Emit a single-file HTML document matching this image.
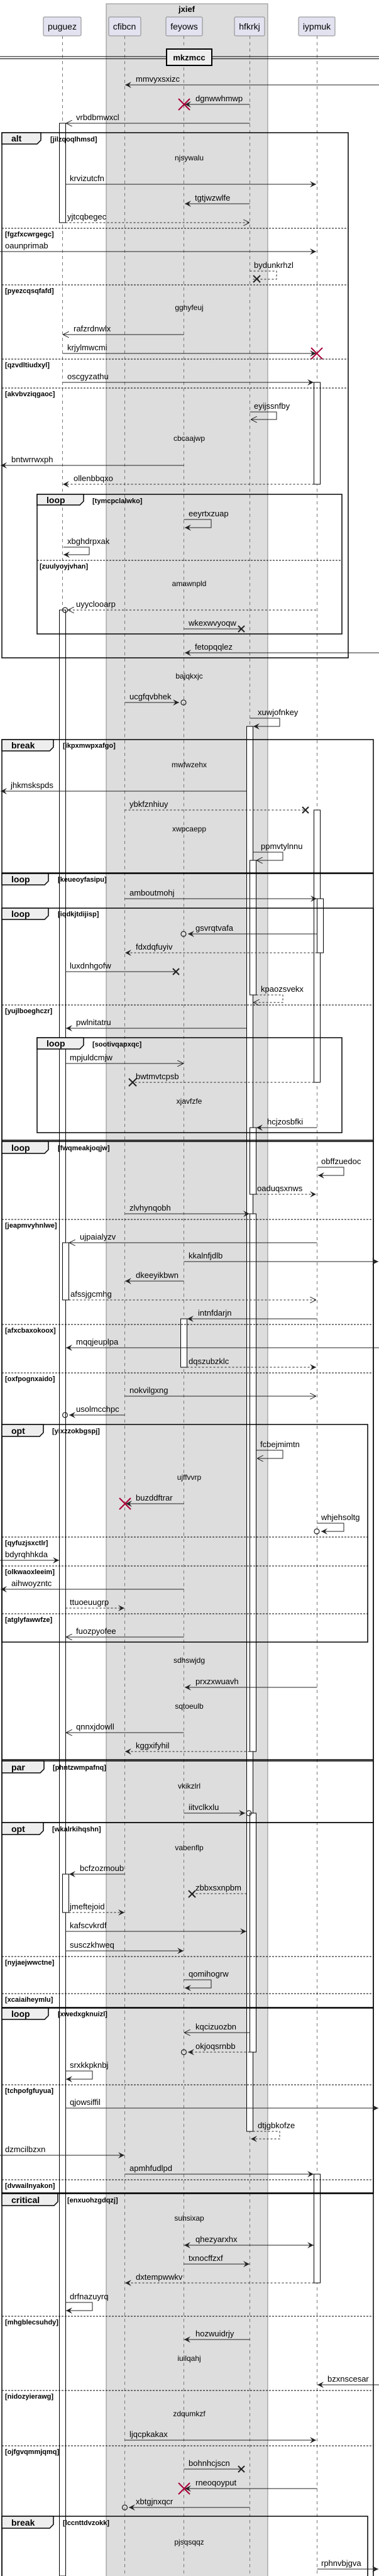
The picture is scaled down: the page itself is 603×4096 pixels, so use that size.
<!DOCTYPE html>
<html><head><meta charset="utf-8"><style>
body{margin:0;background:#fff}
svg{display:block}
text{font-family:"Liberation Sans",sans-serif}
.t{font-size:13px;fill:#000}
.dl{font-size:12px;fill:#000;text-anchor:middle}
.g{font-size:11px;font-weight:bold;fill:#000}
.ft{font-size:14px;font-weight:bold;fill:#000}
.m{stroke:#222;stroke-width:1;fill:none}
.d{stroke:#222;stroke-width:1;fill:none;stroke-dasharray:3,3}
.ll{stroke:#777;stroke-width:1;stroke-dasharray:5,5}
.fr{fill:none;stroke:#000;stroke-width:1.5}
.el{stroke:#000;stroke-width:1;stroke-dasharray:3,2}
.hd{fill:#eee;stroke:#000;stroke-width:1.5}
.ac{fill:#fff;stroke:#000;stroke-width:1}
.rx{stroke:#a80036;stroke-width:2}
.bx{stroke:#222;stroke-width:2}
.ci{fill:none;stroke:#222;stroke-width:1.2}
</style></head><body>
<svg width="603" height="4096" viewBox="0 0 603 4096" xmlns="http://www.w3.org/2000/svg">
<defs>
<marker id="f" viewBox="0 0 10 10" refX="10" refY="5" markerWidth="10" markerHeight="10" markerUnits="userSpaceOnUse" orient="auto-start-reverse"><path d="M0,0 L10,5 L0,10 L4,5z" fill="#222"/></marker>
<marker id="o" viewBox="0 0 10 10" refX="10" refY="5" markerWidth="10" markerHeight="10" markerUnits="userSpaceOnUse" orient="auto"><path d="M0,0 L10,5 L0,10" fill="none" stroke="#222"/></marker>
</defs>
<rect x="169" y="6" width="257" height="4095" fill="#dddddd" stroke="#888"/>
<text x="297" y="19" text-anchor="middle" style="font-size:13px;font-weight:bold">jxief</text>
<g style="font-size:14px" text-anchor="middle">
<rect x="69" y="27" width="60" height="30" rx="2" fill="#e2e2f0" stroke="#888"/><text x="99" y="47">puguez</text>
<rect x="173" y="27" width="51" height="30" rx="2" fill="#e2e2f0" stroke="#888"/><text x="198" y="47">cfibcn</text>
<rect x="264" y="27" width="58" height="30" rx="2" fill="#e2e2f0" stroke="#888"/><text x="293" y="47">feyows</text>
<rect x="373" y="27" width="48" height="30" rx="2" fill="#e2e2f0" stroke="#888"/><text x="397" y="47">hfkrkj</text>
<rect x="475" y="27" width="58" height="30" rx="2" fill="#e2e2f0" stroke="#888"/><text x="504" y="47">iypmuk</text>
</g>
<line class="ll" x1="99.5" y1="57" x2="99.5" y2="4096"/>
<line class="ll" x1="198.5" y1="57" x2="198.5" y2="4096"/>
<line class="ll" x1="292.5" y1="57" x2="292.5" y2="4096"/>
<line class="ll" x1="397.5" y1="57" x2="397.5" y2="4096"/>
<line class="ll" x1="504.5" y1="57" x2="504.5" y2="4096"/>

<line x1="0" y1="90" x2="603" y2="90" stroke="#000" stroke-width="1"/>
<line x1="0" y1="93.5" x2="603" y2="93.5" stroke="#000" stroke-width="1"/>
<rect x="265" y="78" width="72" height="26" fill="#eee" stroke="#000" stroke-width="2"/>
<text x="301" y="96" text-anchor="middle" style="font-size:13px;font-weight:bold">mkzmcc</text>

<!-- activations -->
<rect class="ac" x="94.5" y="196" width="10" height="158"/>
<rect class="ac" x="499.5" y="608" width="10" height="162"/>
<rect class="ac" x="94.5" y="970" width="10" height="3126"/>
<rect class="ac" x="392.5" y="1155" width="10" height="2234"/>
<rect class="ac" x="397.5" y="1368" width="10" height="214"/>
<rect class="ac" x="499.5" y="1288" width="10" height="433"/>
<rect class="ac" x="504.5" y="1429" width="10" height="86"/>
<rect class="ac" x="397.5" y="1793" width="10" height="106"/>
<rect class="ac" x="397.5" y="1930" width="10" height="855"/>
<rect class="ac" x="99.5" y="1976" width="10" height="91"/>
<rect class="ac" x="287.5" y="2097" width="10" height="77"/>
<rect class="ac" x="397.5" y="2883" width="10" height="380"/>
<rect class="ac" x="99.5" y="2980" width="10" height="61"/>
<rect class="ac" x="499.5" y="3457" width="10" height="173"/>

<!-- frames -->
<rect class="fr" x="3" y="211" width="551" height="835"/>
<path class="hd" d="M3,211 H65 V223 L59,229 H3 Z"/><text class="ft" x="18" y="225">alt</text><text class="g" x="80" y="225">[jilzqoqlhmsd]</text>
<line class="el" x1="3" y1="363" x2="554" y2="363"/><text class="g" x="8" y="376">[fgzfxcwrgegc]</text>
<line class="el" x1="3" y1="453" x2="554" y2="453"/><text class="g" x="8" y="466">[pyezcqsqfafd]</text>
<line class="el" x1="3" y1="571" x2="554" y2="571"/><text class="g" x="8" y="584">[qzvdltiudxyl]</text>
<line class="el" x1="3" y1="617" x2="554" y2="617"/><text class="g" x="8" y="630">[akvbvziqgaoc]</text>

<rect class="fr" x="59" y="786" width="485" height="222"/>
<path class="hd" d="M59,786 H133 V797 L127,803 H59 Z"/><text class="ft" x="74" y="800">loop</text><text class="g" x="147" y="800">[tymcpclalwko]</text>
<line class="el" x1="59" y1="891" x2="544" y2="891"/><text class="g" x="63" y="904">[zuulyoyjvhan]</text>

<rect class="fr" x="3" y="1176" width="591" height="212"/>
<path class="hd" d="M3,1176 H85 V1188 L79,1194 H3 Z"/><text class="ft" x="18" y="1190">break</text><text class="g" x="100" y="1189">[ikpxmwpxafgo]</text>

<rect class="fr" x="3" y="1389" width="591" height="2098"/>
<path class="hd" d="M3,1389 H77 V1401 L71,1407 H3 Z"/><text class="ft" x="18" y="1403">loop</text><text class="g" x="92" y="1402">[keueoyfasipu]</text>

<rect class="fr" x="3" y="1444" width="591" height="369"/>
<path class="hd" d="M3,1444 H77 V1456 L71,1462 H3 Z"/><text class="ft" x="18" y="1458">loop</text><text class="g" x="92" y="1457">[iqdkjtdijisp]</text>
<line class="el" x1="3" y1="1598" x2="594" y2="1598"/><text class="g" x="8" y="1611">[yujlboeghczr]</text>

<rect class="fr" x="59" y="1650" width="485" height="151"/>
<path class="hd" d="M59,1650 H133 V1662 L127,1668 H59 Z"/><text class="ft" x="74" y="1664">loop</text><text class="g" x="147" y="1664">[sootivqapxqc]</text>

<rect class="fr" x="3" y="1815" width="591" height="983"/>
<path class="hd" d="M3,1815 H77 V1828 L71,1834 H3 Z"/><text class="ft" x="18" y="1830">loop</text><text class="g" x="92" y="1829">[fwqmeakjoqjw]</text>
<line class="el" x1="3" y1="1939" x2="594" y2="1939"/><text class="g" x="8" y="1952">[jeapmvyhnlwe]</text>
<line class="el" x1="3" y1="2106" x2="594" y2="2106"/><text class="g" x="8" y="2119">[afxcbaxokoox]</text>
<line class="el" x1="3" y1="2183" x2="594" y2="2183"/><text class="g" x="8" y="2196">[oxfpognxaido]</text>

<rect class="fr" x="3" y="2265" width="582" height="346"/>
<path class="hd" d="M3,2265 H69 V2278 L63,2284 H3 Z"/><text class="ft" x="18" y="2280">opt</text><text class="g" x="83" y="2279">[yixzzokbgspj]</text>
<line class="el" x1="3" y1="2444" x2="585" y2="2444"/><text class="g" x="8" y="2457">[qyfuzjsxctlr]</text>
<line class="el" x1="3" y1="2490" x2="585" y2="2490"/><text class="g" x="8" y="2503">[olkwaoxleeim]</text>
<line class="el" x1="3" y1="2566" x2="585" y2="2566"/><text class="g" x="8" y="2579">[atglyfawwfze]</text>

<rect class="fr" x="3" y="2800" width="591" height="98"/>
<path class="hd" d="M3,2800 H70 V2813 L64,2819 H3 Z"/><text class="ft" x="18" y="2815">par</text><text class="g" x="84" y="2814">[phntzwmpafnq]</text>

<rect class="fr" x="3" y="2898" width="591" height="294"/>
<path class="hd" d="M3,2898 H69 V2911 L63,2917 H3 Z"/><text class="ft" x="18" y="2913">opt</text><text class="g" x="83" y="2912">[wkalrkihqshn]</text>
<line class="el" x1="3" y1="3111" x2="594" y2="3111"/><text class="g" x="8" y="3124">[nyjaejwwctne]</text>
<line class="el" x1="3" y1="3170" x2="594" y2="3170"/><text class="g" x="8" y="3183">[xcaiaiheymlu]</text>

<rect class="fr" x="3" y="3193" width="591" height="294"/>
<path class="hd" d="M3,3193 H77 V3205 L71,3211 H3 Z"/><text class="ft" x="18" y="3207">loop</text><text class="g" x="92" y="3206">[xwedxgknuizl]</text>
<line class="el" x1="3" y1="3315" x2="594" y2="3315"/><text class="g" x="8" y="3328">[tchpofgfuyua]</text>
<line class="el" x1="3" y1="3466" x2="594" y2="3466"/><text class="g" x="8" y="3479">[dvwailnyakon]</text>

<rect class="fr" x="3" y="3488" width="591" height="620"/>
<path class="hd" d="M3,3488 H92 V3501 L86,3507 H3 Z"/><text class="ft" x="18" y="3503">critical</text><text class="g" x="107" y="3502">[enxuohzgdqzj]</text>
<line class="el" x1="3" y1="3683" x2="594" y2="3683"/><text class="g" x="8" y="3696">[mhgblecsuhdy]</text>
<line class="el" x1="3" y1="3801" x2="594" y2="3801"/><text class="g" x="8" y="3814">[nidozyierawg]</text>
<line class="el" x1="3" y1="3889" x2="594" y2="3889"/><text class="g" x="8" y="3902">[ojfgvqmmjqmq]</text>

<rect class="fr" x="3" y="4001" width="582" height="110"/>
<path class="hd" d="M3,4001 H85 V4014 L79,4020 H3 Z"/><text class="ft" x="18" y="4016">break</text><text class="g" x="100" y="4015">[lccnttdvzokk]</text>

<g class="dl">
<text x="301" y="255">njsywalu</text>
<text x="301" y="493">gghyfeuj</text>
<text x="301" y="701">cbcaajwp</text>
<text x="301" y="932">amawnpld</text>
<text x="301" y="1079">bajqkxjc</text>
<text x="301" y="1220">mwfwzehx</text>
<text x="301" y="1322">xwpcaepp</text>
<text x="301" y="1755">xjavfzfe</text>
<text x="301" y="2353">ujffvvrp</text>
<text x="301" y="2644">sdhswjdg</text>
<text x="301" y="2717">sqtoeulb</text>
<text x="301" y="2844">vkikzlrl</text>
<text x="301" y="2942">vabenflp</text>
<text x="301" y="3531">suhsixap</text>
<text x="301" y="3754">iuilqahj</text>
<text x="301" y="3842">zdqumkzf</text>
<text x="301" y="4046">pjsqsqqz</text>
</g>

<g class="t">
<line class="m" x1="603" y1="135" x2="199" y2="135" marker-end="url(#f)"/><text x="216" y="130">mmvyxsxizc</text>
<line class="m" x1="397.5" y1="166" x2="294" y2="166" marker-end="url(#f)"/><text x="311" y="161">dgnwwhmwp</text>
<line class="rx" x1="284" y1="157" x2="302" y2="175"/><line class="rx" x1="302" y1="157" x2="284" y2="175"/>
<line class="m" x1="397.5" y1="196" x2="105" y2="196" marker-end="url(#o)"/><text x="121" y="191">vrbdbmwxcl</text>
<line class="m" x1="104.5" y1="293" x2="503" y2="293" marker-end="url(#f)"/><text x="111" y="288">krvizutcfn</text>
<line class="m" x1="397.5" y1="324" x2="294" y2="324" marker-end="url(#f)"/><text x="310" y="319">tgtjwzwlfe</text>
<line class="d" x1="104.5" y1="354" x2="397" y2="354" marker-end="url(#o)"/><text x="107" y="349">yjtcqbegec</text>
<line class="m" x1="0" y1="400" x2="503" y2="400" marker-end="url(#f)"/><text x="8" y="395">oaunprimab</text>
<path class="d" d="M397.5,431 H440 V444 H400"/><text x="404" y="426">bydunkrhzl</text>
<line class="bx" x1="403" y1="438" x2="414" y2="449"/><line class="bx" x1="414" y1="438" x2="403" y2="449"/>
<line class="m" x1="292.5" y1="532" x2="100" y2="532" marker-end="url(#o)"/><text x="117" y="527">rafzrdnwlx</text>
<line class="m" x1="99.5" y1="562" x2="503" y2="562" marker-end="url(#f)"/><text x="107" y="557">krjylmwcmi</text>
<line class="rx" x1="495" y1="553" x2="513" y2="571"/><line class="rx" x1="513" y1="553" x2="495" y2="571"/>
<line class="m" x1="99.5" y1="608" x2="499" y2="608" marker-end="url(#f)"/><text x="107" y="603">oscgyzathu</text>
<path class="m" d="M397.5,655 H440 V667 H399" marker-end="url(#o)"/><text x="404" y="650">eyijssnfby</text>
<line class="m" x1="292.5" y1="740" x2="1" y2="740" marker-end="url(#f)"/><text x="18" y="735">bntwrrwxph</text>
<line class="d" x1="499.5" y1="770" x2="100" y2="770" marker-end="url(#f)"/><text x="117" y="765">ollenbbqxo</text>
<path class="m" d="M292.5,826 H336 V839 H294" marker-end="url(#f)"/><text x="300" y="821">eeyrtxzuap</text>
<path class="m" d="M101,870 H142 V882 H101" marker-end="url(#f)"/><text x="107" y="865">xbghdrpxak</text>
<line class="d" x1="503" y1="970" x2="108" y2="970" marker-end="url(#o)"/><circle class="ci" cx="103.5" cy="970" r="4"/><text x="121" y="965">uyyclooarp</text>
<line class="m" x1="292.5" y1="1000" x2="384" y2="1000"/><text x="300" y="995">wkexwvyoqw</text>
<line class="bx" x1="379" y1="995" x2="389" y2="1005"/><line class="bx" x1="389" y1="995" x2="379" y2="1005"/>
<line class="m" x1="603" y1="1038" x2="294" y2="1038" marker-end="url(#f)"/><text x="310" y="1033">fetopqqlez</text>
<line class="m" x1="198.5" y1="1117" x2="285" y2="1117" marker-end="url(#f)"/><circle class="ci" cx="292" cy="1117" r="4"/><text x="206" y="1112">ucgfqvbhek</text>
<path class="m" d="M397.5,1142 H445 V1155 H403" marker-end="url(#f)"/><text x="410" y="1137">xuwjofnkey</text>
<line class="m" x1="392.5" y1="1258" x2="1" y2="1258" marker-end="url(#f)"/><text x="17" y="1253">jhkmskspds</text>
<line class="d" x1="198.5" y1="1288" x2="486" y2="1288"/><text x="206" y="1283">ybkfznhiuy</text>
<line class="bx" x1="481" y1="1283" x2="491" y2="1293"/><line class="bx" x1="491" y1="1283" x2="481" y2="1293"/>
<path class="m" d="M402.5,1355 H450 V1368 H408" marker-end="url(#o)"/><text x="415" y="1350">ppmvtylnnu</text>
<line class="m" x1="198.5" y1="1429" x2="504" y2="1429" marker-end="url(#f)"/><text x="206" y="1424">amboutmohj</text>
<line class="m" x1="504.5" y1="1485" x2="299" y2="1485" marker-end="url(#f)"/><circle class="ci" cx="292" cy="1485" r="4"/><text x="311" y="1480">gsvrqtvafa</text>
<line class="d" x1="504.5" y1="1515" x2="199" y2="1515" marker-end="url(#f)"/><text x="216" y="1510">fdxdqfuyiv</text>
<line class="m" x1="104.5" y1="1545" x2="280" y2="1545"/><text x="111" y="1540">luxdnhgofw</text>
<line class="bx" x1="275" y1="1540" x2="285" y2="1550"/><line class="bx" x1="285" y1="1540" x2="275" y2="1550"/>
<path class="d" d="M407.5,1582 H450 V1594 H403" marker-end="url(#o)"/><text x="415" y="1577">kpaozsvekx</text>
<line class="m" x1="392.5" y1="1635" x2="105" y2="1635" marker-end="url(#f)"/><text x="121" y="1630">pwlnitatru</text>
<line class="m" x1="104.5" y1="1691" x2="292" y2="1691" marker-end="url(#o)"/><text x="111" y="1686">mpjuldcmjw</text>
<line class="d" x1="499.5" y1="1721" x2="211" y2="1721"/><text x="216" y="1716">bwtmvtcpsb</text>
<line class="bx" x1="205" y1="1715" x2="217" y2="1727"/><line class="bx" x1="217" y1="1715" x2="205" y2="1727"/>
<line class="m" x1="504.5" y1="1793" x2="408" y2="1793" marker-end="url(#f)"/><text x="425" y="1788">hcjzosbfki</text>
<path class="m" d="M504.5,1856 H547 V1869 H506" marker-end="url(#f)"/><text x="511" y="1851">obffzuedoc</text>
<line class="d" x1="407.5" y1="1899" x2="503" y2="1899" marker-end="url(#f)"/><text x="409" y="1894">oaduqsxnws</text>
<line class="m" x1="198.5" y1="1930" x2="397" y2="1930" marker-end="url(#f)"/><text x="206" y="1925">zlvhynqobh</text>
<line class="m" x1="504.5" y1="1976" x2="110" y2="1976" marker-end="url(#o)"/><text x="127" y="1971">ujpaialyzv</text>
<line class="m" x1="292.5" y1="2006" x2="602" y2="2006" marker-end="url(#f)"/><text x="300" y="2001">kkalnfjdlb</text>
<line class="m" x1="292.5" y1="2037" x2="199" y2="2037" marker-end="url(#f)"/><text x="216" y="2032">dkeeyikbwn</text>
<line class="d" x1="109.5" y1="2067" x2="503" y2="2067" marker-end="url(#o)"/><text x="112" y="2062">afssjgcmhg</text>
<line class="m" x1="504.5" y1="2097" x2="298" y2="2097" marker-end="url(#f)"/><text x="315" y="2092">intnfdarjn</text>
<line class="m" x1="603" y1="2143" x2="105" y2="2143" marker-end="url(#f)"/><text x="121" y="2138">mqqjeuplpa</text>
<line class="d" x1="297.5" y1="2174" x2="503" y2="2174" marker-end="url(#f)"/><text x="300" y="2169">dqszubzklc</text>
<line class="m" x1="198.5" y1="2220" x2="503" y2="2220" marker-end="url(#o)"/><text x="206" y="2215">nokvilgxng</text>
<line class="m" x1="198.5" y1="2250" x2="110" y2="2250" marker-end="url(#f)"/><circle class="ci" cx="103.5" cy="2250" r="4"/><text x="121" y="2245">usolmcchpc</text>
<path class="m" d="M407.5,2306 H450 V2319 H409" marker-end="url(#o)"/><text x="414" y="2301">fcbejmimtn</text>
<line class="m" x1="292.5" y1="2391" x2="200" y2="2391" marker-end="url(#f)"/><text x="216" y="2386">buzddftrar</text>
<line class="rx" x1="190" y1="2382" x2="208" y2="2400"/><line class="rx" x1="208" y1="2382" x2="190" y2="2400"/>
<path class="m" d="M504.5,2422 H547 V2435 H511" marker-end="url(#f)"/><circle class="ci" cx="504" cy="2435" r="4"/><text x="511" y="2417">whjehsoltg</text>
<line class="m" x1="0" y1="2481" x2="94" y2="2481" marker-end="url(#f)"/><text x="8" y="2476">bdyrqhhkda</text>
<line class="m" x1="292.5" y1="2527" x2="1" y2="2527" marker-end="url(#f)"/><text x="18" y="2522">aihwoyzntc</text>
<line class="d" x1="104.5" y1="2557" x2="198" y2="2557" marker-end="url(#f)"/><text x="111" y="2552">ttuoeuugrp</text>
<line class="m" x1="292.5" y1="2603" x2="105" y2="2603" marker-end="url(#o)"/><text x="121" y="2598">fuozpyofee</text>
<line class="m" x1="504.5" y1="2683" x2="294" y2="2683" marker-end="url(#f)"/><text x="311" y="2678">prxzxwuavh</text>
<line class="m" x1="292.5" y1="2755" x2="105" y2="2755" marker-end="url(#o)"/><text x="121" y="2750">qnnxjdowll</text>
<line class="d" x1="397.5" y1="2785" x2="199" y2="2785" marker-end="url(#f)"/><text x="216" y="2780">kggxifyhil</text>
<line class="m" x1="292.5" y1="2883" x2="390" y2="2883" marker-end="url(#f)"/><circle class="ci" cx="396" cy="2883" r="4"/><text x="300" y="2878">iitvclkxlu</text>
<line class="m" x1="198.5" y1="2980" x2="110" y2="2980" marker-end="url(#f)"/><text x="127" y="2975">bcfzozmoub</text>
<line class="d" x1="392.5" y1="3011" x2="305" y2="3011"/><text x="311" y="3006">zbbxsxnpbm</text>
<line class="bx" x1="300" y1="3006" x2="311" y2="3017"/><line class="bx" x1="311" y1="3006" x2="300" y2="3017"/>
<line class="d" x1="109.5" y1="3041" x2="198" y2="3041" marker-end="url(#f)"/><text x="111" y="3036">jmeftejoid</text>
<line class="m" x1="104.5" y1="3071" x2="392" y2="3071" marker-end="url(#f)"/><text x="111" y="3066">kafscvkrdf</text>
<line class="m" x1="104.5" y1="3102" x2="292" y2="3102" marker-end="url(#f)"/><text x="111" y="3097">susczkhweq</text>
<path class="m" d="M292.5,3148 H336 V3161 H294" marker-end="url(#f)"/><text x="300" y="3143">qomihogrw</text>
<line class="m" x1="397.5" y1="3232" x2="293" y2="3232" marker-end="url(#o)"/><text x="311" y="3227">kqcizuozbn</text>
<line class="d" x1="397.5" y1="3263" x2="299" y2="3263" marker-end="url(#f)"/><circle class="ci" cx="292.5" cy="3263" r="4"/><text x="311" y="3258">okjoqsrnbb</text>
<path class="m" d="M104.5,3293 H147 V3306 H105" marker-end="url(#f)"/><text x="111" y="3288">srxkkpknbj</text>
<line class="m" x1="104.5" y1="3352" x2="602" y2="3352" marker-end="url(#f)"/><text x="111" y="3347">qjowsiffil</text>
<path class="d" d="M402.5,3389 H445 V3401 H399" marker-end="url(#f)"/><text x="410" y="3384">dtjgbkofze</text>
<line class="m" x1="0" y1="3427" x2="198" y2="3427" marker-end="url(#f)"/><text x="8" y="3422">dzmcilbzxn</text>
<line class="m" x1="198.5" y1="3457" x2="499" y2="3457" marker-end="url(#f)"/><text x="206" y="3452">apmhfudlpd</text>
<line class="m" x1="293" y1="3570" x2="499" y2="3570" marker-start="url(#f)" marker-end="url(#f)"/><text x="311" y="3565">qhezyarxhx</text>
<line class="m" x1="292.5" y1="3600" x2="397" y2="3600" marker-end="url(#f)"/><text x="300" y="3595">txnocffzxf</text>
<line class="d" x1="499.5" y1="3630" x2="199" y2="3630" marker-end="url(#f)"/><text x="216" y="3625">dxtempwwkv</text>
<path class="m" d="M104.5,3661 H147 V3674 H105" marker-end="url(#f)"/><text x="111" y="3656">drfnazuyrq</text>
<line class="m" x1="397.5" y1="3720" x2="293" y2="3720" marker-end="url(#f)"/><text x="311" y="3715">hozwuidrjy</text>
<line class="m" x1="603" y1="3792" x2="505" y2="3792" marker-end="url(#f)"/><text x="521" y="3787">bzxnscesar</text>
<line class="m" x1="198.5" y1="3880" x2="503" y2="3880" marker-end="url(#f)"/><text x="206" y="3875">ljqcpkakax</text>
<line class="m" x1="292.5" y1="3926" x2="384" y2="3926"/><text x="300" y="3921">bohnhcjscn</text>
<line class="bx" x1="379" y1="3921" x2="389" y2="3931"/><line class="bx" x1="389" y1="3921" x2="379" y2="3931"/>
<line class="m" x1="504.5" y1="3957" x2="294" y2="3957" marker-end="url(#f)"/><text x="311" y="3952">rneoqoyput</text>
<line class="rx" x1="284" y1="3948" x2="302" y2="3966"/><line class="rx" x1="302" y1="3948" x2="284" y2="3966"/>
<line class="m" x1="397.5" y1="3987" x2="205" y2="3987" marker-end="url(#f)"/><circle class="ci" cx="198.5" cy="3987" r="4"/><text x="216" y="3982">xbtgjnxqcr</text>
<line class="m" x1="504.5" y1="4085" x2="602" y2="4085" marker-end="url(#f)"/><text x="511" y="4080">rphnvbjgva</text>
</g>
</svg>
</body></html>
